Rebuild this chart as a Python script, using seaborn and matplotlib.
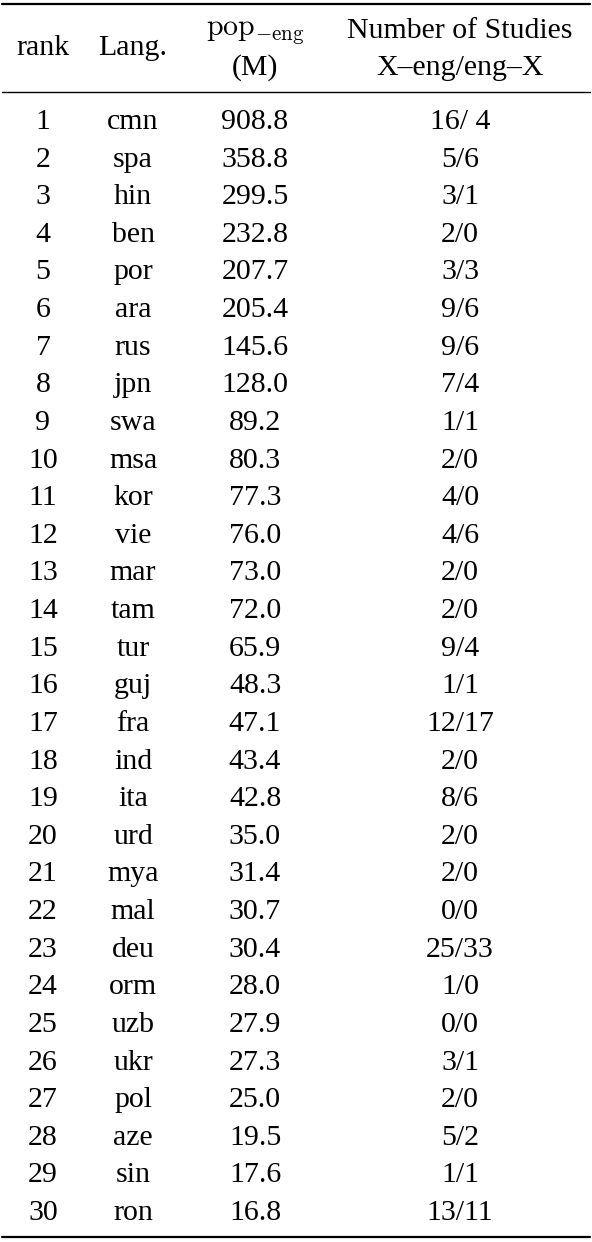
import matplotlib
matplotlib.use("Agg")
import matplotlib.pyplot as plt
import seaborn as sns

ranks = list(range(1, 31))
langs = ["cmn", "spa", "hin", "ben", "por", "ara", "rus", "jpn", "swa", "msa",
         "kor", "vie", "mar", "tam", "tur", "guj", "fra", "ind", "ita", "urd",
         "mya", "mal", "deu", "orm", "uzb", "ukr", "pol", "aze", "sin", "ron"]
pop_eng = ["908.8", "358.8", "299.5", "232.8", "207.7", "205.4", "145.6", "128.0",
           "89.2", "80.3", "77.3", "76.0", "73.0", "72.0", "65.9", "48.3", "47.1",
           "43.4", "42.8", "35.0", "31.4", "30.7", "30.4", "28.0", "27.9", "27.3",
           "25.0", "19.5", "17.6", "16.8"]
studies = ["16/ 4", "5/6", "3/1", "2/0", "3/3", "9/6", "9/6", "7/4", "1/1", "2/0",
           "4/0", "4/6", "2/0", "2/0", "9/4", "1/1", "12/17", "2/0", "8/6", "2/0",
           "2/0", "0/0", "25/33", "1/0", "0/0", "3/1", "2/0", "5/2", "1/1", "13/11"]

sns.set_theme(style="white")
plt.rcParams['font.family'] = ['Liberation Serif', 'DejaVu Serif']
plt.rcParams['mathtext.fontset'] = 'cm'
plt.rcParams['text.color'] = 'black'

W, H = 592, 1242
fig = plt.figure(figsize=(W / 100, H / 100), dpi=100)
ax = fig.add_axes([0, 0, 1, 1])
ax.set_xlim(0, W)
ax.set_ylim(H, 0)
ax.axis("off")

cols = [43, 133, 255, 460]
fs = 21.5

# rules
ax.plot([2, 590], [4, 4], color="black", lw=1.6)
ax.plot([2, 590], [92, 92], color="black", lw=1.0)
ax.plot([2, 590], [1237, 1237], color="black", lw=1.6)

# header
ax.text(cols[0], 48, "rank", ha="center", va="center", fontsize=fs)
ax.text(cols[1], 48, "Lang.", ha="center", va="center", fontsize=fs)
ax.text(cols[2], 33, r"$\mathrm{pop}_{-\mathrm{eng}}$", ha="center", va="center", fontsize=fs)
ax.text(cols[2], 68, "(M)", ha="center", va="center", fontsize=fs)
ax.text(cols[3], 31, "Number of Studies", ha="center", va="center", fontsize=fs)
ax.text(cols[3], 68, "X\u2013eng/eng\u2013X", ha="center", va="center", fontsize=fs)

y0, dy = 122, (1213 - 122) / 29
for i in range(len(ranks)):
    y = y0 + i * dy
    for x, val in zip(cols, [str(ranks[i]), langs[i], pop_eng[i], studies[i]]):
        ax.text(x, y, val, ha="center", va="center", fontsize=fs)

fig.savefig("out.png", dpi=100)
